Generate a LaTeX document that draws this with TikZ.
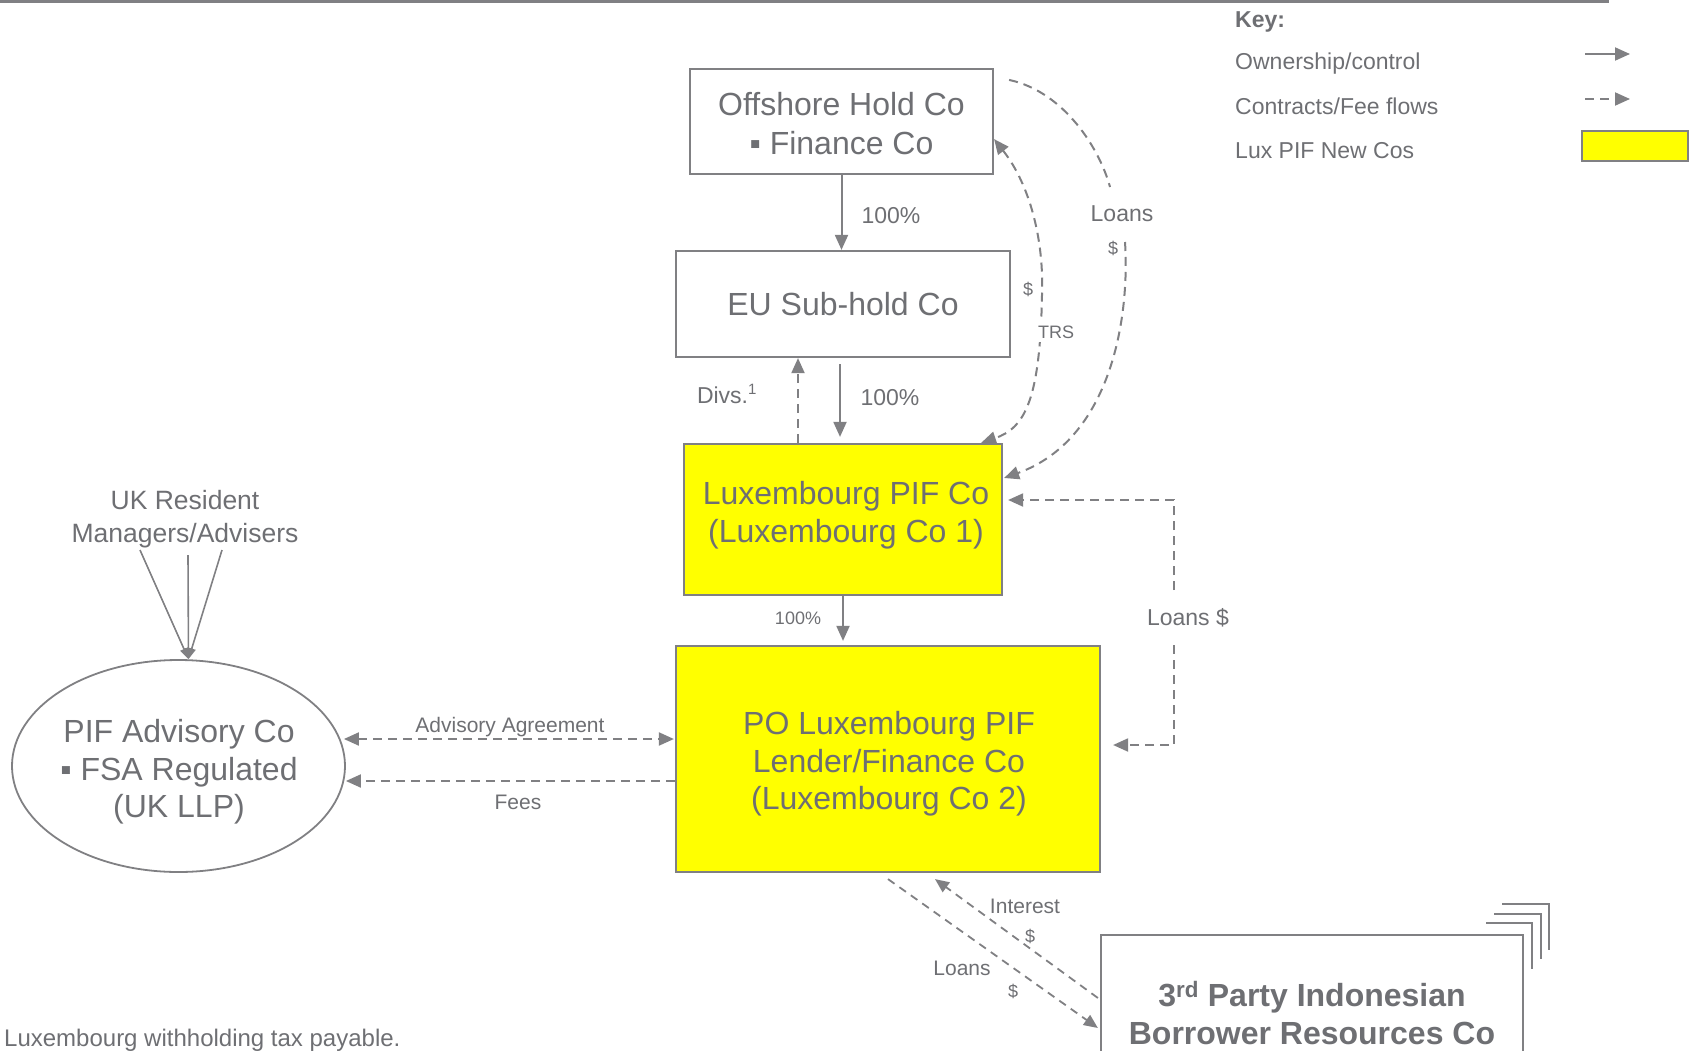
\documentclass[tikz,border=0pt]{standalone}
\usepackage{fontspec}
\setmainfont{Liberation Sans}
\usetikzlibrary{arrows.meta,calc,shapes.geometric}
\definecolor{tg}{RGB}{110,111,115}
\definecolor{lg}{RGB}{128,128,131}
\definecolor{luxy}{RGB}{255,255,0}
\tikzset{
  >={Triangle[length=15pt,width=13pt]},
  box/.style={draw=lg, line width=2.2pt, rectangle, inner sep=0pt, text=tg, align=center},
  luxbox/.style={box, fill=luxy},
  big/.style={font=\fontsize{32}{39}\selectfont},
  txt/.style={text=tg, inner sep=1pt},
  mid/.style={txt, font=\fontsize{23}{27}\selectfont},
  smalltxt/.style={txt, font=\fontsize{21}{25}\selectfont},
  tiny/.style={txt, font=\fontsize{18}{21}\selectfont},
  own/.style={draw=lg, line width=2pt, ->},
  dline/.style={draw=lg, line width=2pt, dash pattern=on 9pt off 6pt},
  dlinetwo/.style={draw=lg, line width=1.8pt, dash pattern=on 8pt off 6pt, >={Triangle[length=14pt,width=12pt]}},
}
\begin{document}
\begin{tikzpicture}[x=1pt,y=-1pt]
\path[use as bounding box] (0,0) rectangle (1691,1051);
\clip (0,0) rectangle (1691,1051);

% top rule
\draw[lg, line width=3pt] (0,1.5) -- (1609,1.5);

% key
\node[mid, anchor=base west, inner sep=0pt, font=\fontsize{23}{27}\selectfont\bfseries] (keyt) at (1235,28) {Key:};
\node[mid, anchor=base west, inner sep=0pt] (keyown) at (1235,69.5) {Ownership/control};
\node[mid, anchor=base west, inner sep=0pt] (keyflow) at (1235,114.5) {Contracts/Fee flows};
\node[mid, anchor=base west, inner sep=0pt] (keylux) at (1235,158.5) {Lux PIF New Cos};
\coordinate (ko1) at (1585,54); \coordinate (ko2) at (1630,54);
\coordinate (kf1) at (1585,99); \coordinate (kf2) at (1630,99);
\draw[own] (ko1) -- (ko2);
\draw[dline,->] (kf1) -- (kf2);
\node[draw=lg, line width=2pt, fill=luxy, minimum width=106pt, minimum height=30pt, inner sep=0pt] (keybox) at (1635,146) {};

% boxes
\node[box, minimum width=303pt, minimum height=105pt] (off) at (841.5,121.5) {};
\node[txt, align=center, inner sep=0pt, font=\fontsize{32}{39}\selectfont] (offt) at (841.5,124) {Offshore Hold Co\\▪ Finance Co};
\node[box, big, minimum width=334pt, minimum height=106pt] (eu) at (843,304) {EU Sub-hold Co};
\node[luxbox, minimum width=318pt, minimum height=151pt] (lux) at (843,519.5) {};
\node[txt, align=center, inner sep=0pt, font=\fontsize{32}{38}\selectfont] (luxt) at (846,515) {Luxembourg PIF Co\\(Luxembourg Co 1)};
\node[luxbox, minimum width=424pt, minimum height=226pt] (po) at (888,759) {};
\node[txt, align=center, inner sep=0pt, font=\fontsize{32}{37.5}\selectfont] (pot) at (889,764) {PO Luxembourg PIF\\Lender/Finance Co\\(Luxembourg Co 2)};
\node[draw=lg, line width=1.8pt, ellipse, minimum width=333pt, minimum height=212pt, inner sep=0pt] (adv) at (178.5,766) {};
\node[txt, align=center, inner sep=0pt, font=\fontsize{32}{37.5}\selectfont] (advt) at (179,772) {PIF Advisory Co\\▪ FSA Regulated\\(UK LLP)};
\node[box, minimum width=422pt, minimum height=156pt, font=\fontsize{32}{38}\selectfont\bfseries] (third) at (1312,1013) {3\textsuperscript{rd} Party Indonesian\\Borrower Resources Co};
% stacked outlines behind third party box
\draw[lg, line width=2pt] (1486,923) -- (1532,923) -- (1532,969);
\draw[lg, line width=2pt] (1494,914) -- (1541,914) -- (1541,959);
\draw[lg, line width=2pt] (1502,904) -- (1549,904) -- (1549,950);

% UK resident
\node[txt, align=center, font=\fontsize{26.5}{33}\selectfont] (uk) at (185,519) {UK Resident\\Managers/Advisers};
\coordinate (uk1) at (140,550); \coordinate (uk2) at (188,555); \coordinate (uk3) at (222,550);
\coordinate (advtop) at ($(adv.north)+(10,0)$);
\draw[draw=lg, line width=1.6pt, -{Triangle[length=11pt,width=8pt]}] (uk1) -- (advtop);
\draw[draw=lg, line width=1.6pt, -{Triangle[length=11pt,width=8pt]}] (uk2) -- (advtop);
\draw[draw=lg, line width=1.6pt, -{Triangle[length=11pt,width=8pt]}] (uk3) -- (advtop);

% ownership arrows
\draw[own] (off.south) -- (off.south |- eu.north);
\node[mid] (p1) at (891,216) {100\%};
\draw[own] ($(eu.south)+(-3,6)$) -- ($(eu.south |- lux.north)+(-3,-6)$);
\node[mid] (p2) at (890,398) {100\%};
\draw[own] (lux.south) -- ($(lux.south |- po.north)+(0,-4)$);
\node[tiny] (p3) at (798,618) {100\%};

% dividends
\draw[dline,->] ($(lux.north)+(-45,0)$) -- ($(lux.north |- eu.south)+(-45,0)$);
\node[mid] (divs) at (727,394) {Divs.\textsuperscript{\fontsize{15}{17}\selectfont 1}};

% TRS
\draw[dline,<->] ($(off.south east)+(0,-36)$) .. controls (1030,185) and (1044,240) .. (1042,295) .. controls (1040,400) and (1025,428) .. ($(lux.north east)+(-22,0)$);
\node[tiny] (trsd) at (1028,289) {\$};
\node[tiny, fill=white, inner sep=4pt] (trs) at (1056,332) {TRS};

% Loans curve
\coordinate (loansA) at (1110,187);
\coordinate (loansB) at (1125,242);
\draw[dline] ($(off.north east)+(15,12)$) .. controls (1065,92) and (1100,150) .. (loansA);
\draw[dline,->] (loansB) .. controls (1130,320) and (1110,440) .. ($(lux.east)+(1,-41.5)$);
\node[mid] (loans1) at (1122,214) {Loans};
\node[tiny] (loans1d) at (1113,248) {\$};

% Loans $ elbow
\coordinate (lsA) at (1174,590);
\coordinate (lsB) at (1174,645);
\draw[dline,->] (lsA) |- ($(lux.east)+(5,-19.5)$);
\draw[dline,->] (lsB) |- ($(po.east)+(12,-14)$);
\node[mid] (loans2) at (1188,618) {Loans \$};

% advisory
\draw[dline,<->] ($(adv.east)+(-2,-27)$) -- ($(po.west)+(-1,-20)$);
\node[smalltxt] (advag) at (510,727) {Advisory Agreement};
\draw[dline,->] ($(po.west)+(0,22)$) -- ($(adv.east)+(0,15)$);
\node[smalltxt] (fees) at (518,802) {Fees};

% loans / interest to third party
\draw[dlinetwo,->] ($(po.south)+(0,6)$) -- ($(third.west)+(-2,15)$);
\draw[dlinetwo,->] ($(third.west)+(-2,-15)$) -- ($(po.south)+(47,6)$);
\node[smalltxt] (intr) at (1025,906) {Interest};
\node[tiny] (intrd) at (1030,936) {\$};
\node[smalltxt] (loans3) at (962,968) {Loans};
\node[tiny] (loans3d) at (1013,991) {\$};

% footnote
\node[txt, anchor=base west, inner sep=0pt, font=\fontsize{24}{28}\selectfont] (foot) at (4,1046) {Luxembourg withholding tax payable.};
\end{tikzpicture}
\end{document}
